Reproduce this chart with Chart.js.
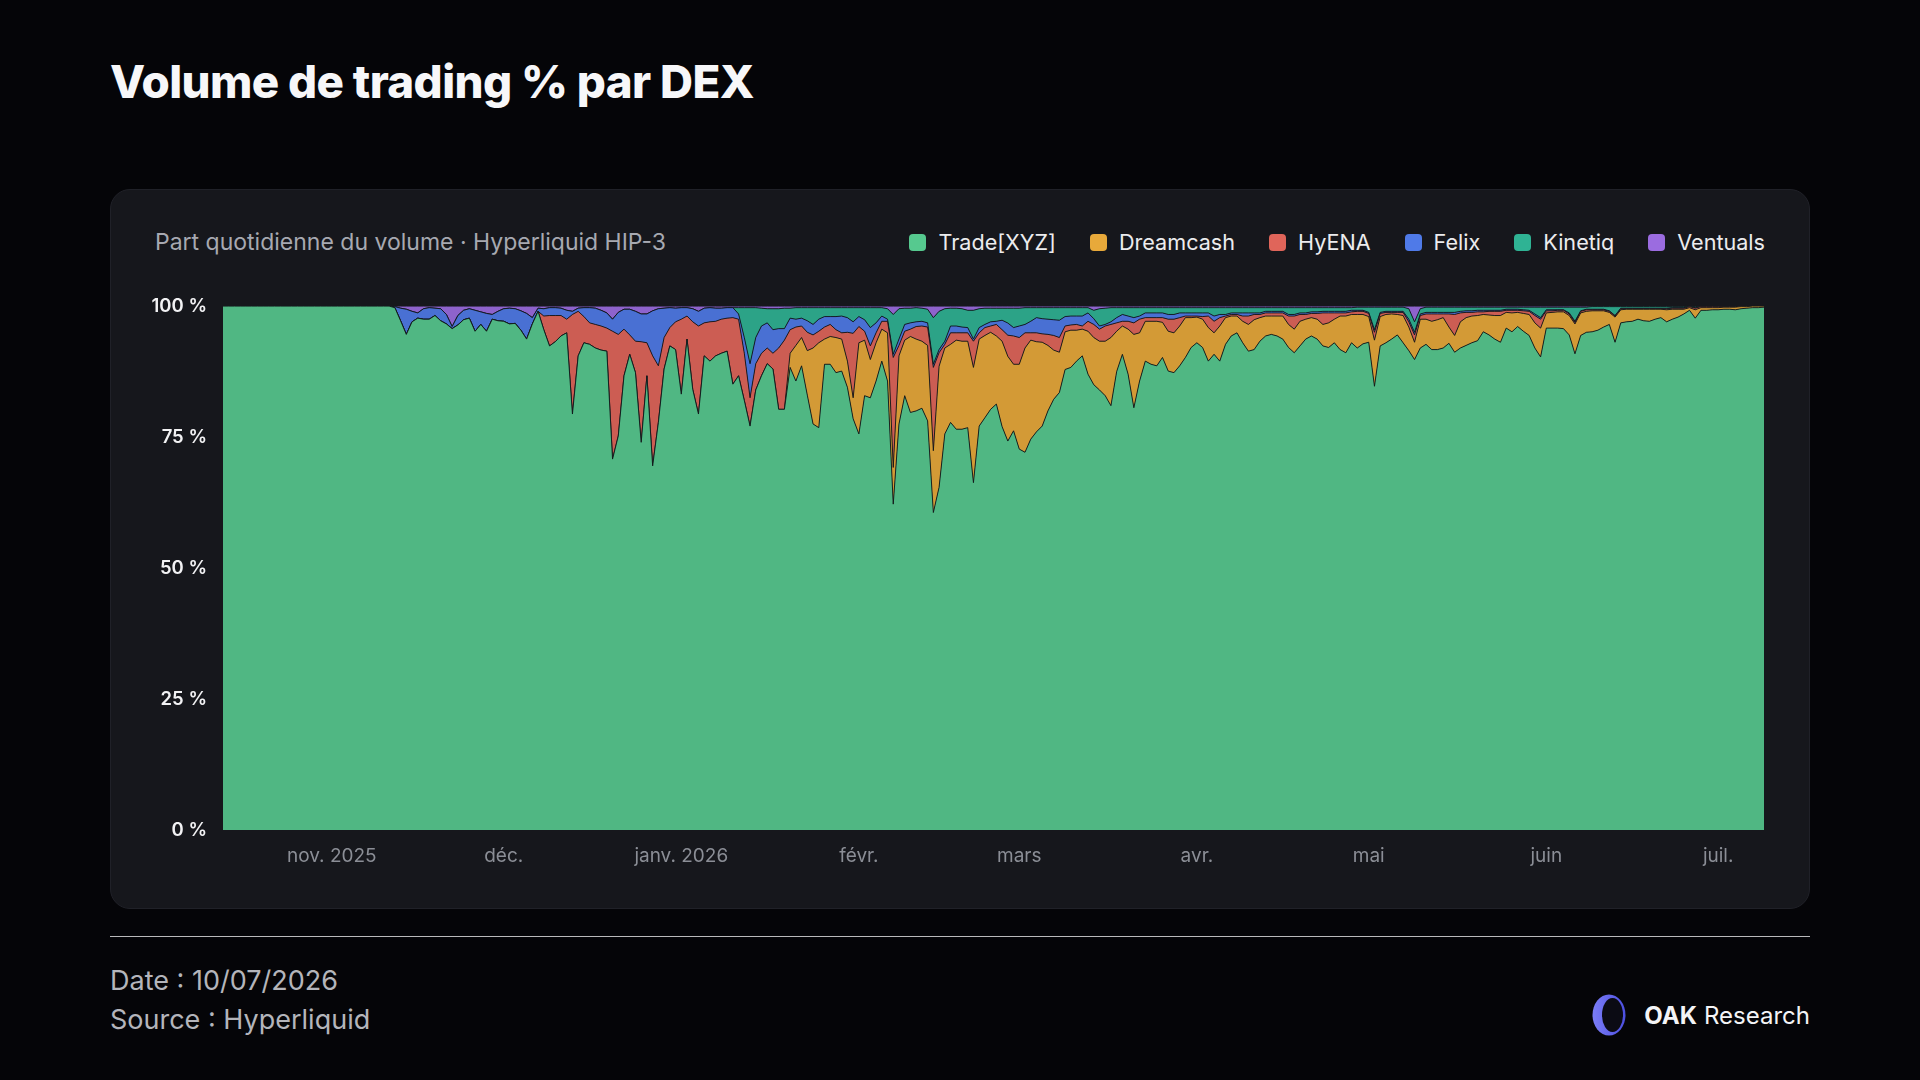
<!DOCTYPE html>
<html lang="fr">
<head>
<meta charset="utf-8">
<title>Volume de trading % par DEX</title>
<script src="https://cdn.jsdelivr.net/npm/chart.js@4.4.1/dist/chart.umd.min.js"></script>
<style>
  html, body { margin: 0; padding: 0; }
  body {
    width: 1920px; height: 1080px; position: relative; overflow: hidden;
    background: #050508; font-family: Inter, "Noto Sans", sans-serif; color: #fff;
  }
  h1 {
    position: absolute; left: 110px; top: 54px; margin: 0;
    font-size: 45.7px; font-weight: 800; letter-spacing: -0.6px; color: #f7f7f9;
  }
  .card {
    position: absolute; left: 110px; top: 189px; width: 1700px; height: 720px;
    background: #16171c; border: 1px solid #202128; border-radius: 20px; box-sizing: border-box;
  }
  .subtitle {
    position: absolute; left: 44px; top: 38px; font-size: 23px; color: #a7a9b1;
  }
  .legend {
    position: absolute; right: 44px; top: 39px; display: flex; gap: 34px;
    font-size: 21.6px; color: #ececee;
  }
  .legend span { display: flex; align-items: center; }
  .legend i { display: inline-block; width: 17px; height: 17px; border-radius: 4px; margin-right: 12px; }
  .chart-box { position: absolute; left: 130px; top: 287px; width: 1660px; height: 603px; }
  .rule { position: absolute; left: 110px; top: 936px; width: 1700px; height: 1px; background: rgba(255,255,255,0.72); }
  .meta { position: absolute; left: 110px; top: 961px; font-size: 27px; line-height: 39px; color: #b4b5bb; }
  .brand { position: absolute; right: 110px; top: 993px; display: flex; align-items: center; font-size: 24px; color: #f4f4f6; }
  .brand svg { margin-right: 14px; }
  .brand b { font-weight: 700; margin-right: 7px; }
</style>
</head>
<body>
<h1>Volume de trading % par DEX</h1>
<div class="card">
  <div class="subtitle">Part quotidienne du volume · Hyperliquid HIP-3</div>
  <div class="legend" id="legend"></div>
</div>
<div class="chart-box"><canvas id="shareChart"></canvas></div>
<div class="rule"></div>
<div class="meta">Date : 10/07/2026<br>Source : Hyperliquid</div>
<div class="brand">
  <svg width="42" height="44" viewBox="0 0 42 44">
    <defs>
      <linearGradient id="ring" x1="0" y1="0" x2="1" y2="0">
        <stop offset="0" stop-color="#7b7df7"/>
        <stop offset="1" stop-color="#4c4fe0"/>
      </linearGradient>
    </defs>
    <ellipse cx="21" cy="22" rx="16.5" ry="20.5" fill="url(#ring)"/>
    <ellipse cx="24.5" cy="22" rx="10.5" ry="17" fill="#0b0b14"/>
  </svg>
  <b>OAK</b>Research
</div>

<script>
// daily series, first day 2025-10-13, shares in % of HIP-3 volume
const startDate = '2025-10-13';
const seriesNames = ['Trade[XYZ]', 'Dreamcash', 'HyENA', 'Felix', 'Kinetiq', 'Ventuals'];
const seriesColors = ['#56c98f', '#e8a93a', '#e0655a', '#4f7ae8', '#2fb394', '#9b6ce0'];

const tickMonths = ['2025-11', '2025-12', '2026-01', '2026-02', '2026-03', '2026-04', '2026-05', '2026-06', '2026-07'];
const tickLabels = ['nov. 2025', 'déc.', 'janv. 2026', 'févr.', 'mars', 'avr.', 'mai', 'juin', 'juil.'];
const yTicks = [0, 25, 50, 75, 100];

const tradeXyz = [
  100,100,100,100,100,100,100,100,100,100,
  100,100,100,100,100,100,100,100,100,100,
  100,100,100,100,100,100,100,100,100,100,
  99.7,97.2,94.6,97.0,97.7,97.5,97.5,98.2,97.2,96.6,
  95.7,96.4,97.4,97.7,95.2,96.5,95.2,97.5,97.2,97.1,
  96.6,96.7,95.4,93.7,96.6,99.0,95.5,92.4,93.2,94.3,
  94.9,79.4,90.5,93.0,92.7,92.0,91.6,91.4,70.8,75.2,
  86.7,90.8,87.3,74.0,86.7,69.5,77.8,88.0,92.4,91.7,
  83.2,93.7,84.1,79.4,90.5,89.5,90.5,91.0,91.4,85.1,
  86.7,82.0,77.1,84.0,86.7,89.0,88.0,80.3,80.3,88.3,
  85.7,88.6,83.0,77.5,76.8,88.9,88.9,87.3,87.6,84.5,
  78.5,75.6,82.9,82.5,85.7,89.5,85.7,62.2,77.5,82.9,
  79.7,80.0,80.5,78.1,60.6,65.4,75.6,77.8,76.5,76.5,
  76.8,66.3,77.1,78.7,80.3,81.3,77.0,73.5,76.2,72.7,
  72.1,74.6,76.0,77.1,80.0,82.2,83.5,87.9,88.3,89.5,
  90.5,87.0,85.0,84.0,82.9,81.0,87.5,90.8,87.0,80.6,
  85.7,89.5,88.9,88.6,90.2,87.6,87.3,88.6,90.2,92.1,
  93.0,92.1,89.5,90.8,89.5,92.7,94.3,94.9,93.0,91.4,
  91.7,93.3,94.3,94.6,94.3,93.7,92.1,91.1,92.4,93.7,
  94.3,93.7,92.4,92.1,93.0,91.7,91.1,93.0,92.0,92.8,
  93.1,84.7,92.4,93.0,93.7,94.5,93.0,91.5,89.8,92.0,
  92.7,91.7,91.7,92.0,92.9,91.2,92.0,92.5,93.0,93.4,
  95.1,94.5,93.7,93.1,95.8,95.1,96.1,95.2,94.4,92.0,
  90.3,95.8,95.8,95.8,95.7,94.5,90.9,94.4,95.0,95.1,
  95.4,96.0,96.5,93.1,96.8,97.0,97.1,97.5,97.2,97.1,
  97.5,97.8,97.0,97.5,97.9,98.5,99.2,97.7,99.2,99.2,
  99.3,99.3,99.4,99.4,99.3,99.5,99.6,99.7,99.7,99.8
];

const dreamcash = [
  0,0,0,0,0,0,0,0,0,0,
  0,0,0,0,0,0,0,0,0,0,
  0,0,0,0,0,0,0,0,0,0,
  0,0,0,0,0,0,0,0,0,0,
  0,0,0,0,0,0,0,0,0,0,
  0,0,0,0,0,0,0,0,0,0,
  0,0,0,0,0,0,0,0,0,0,
  0,0,0,0,0,0,0,0,0,0,
  0,0,0,0,0,0,0,0,0,0,
  0,0,0,0,0,0,0,0,0,2.7,
  6.8,5.4,8.5,14.5,16.2,4.8,5.3,6.7,6.1,5.0,
  4.0,17.4,10.6,7.3,7.3,6.1,9.2,7.0,13.0,10.6,
  14.5,13.7,12.8,14.4,11.8,23.1,16.4,14.9,17.0,16.8,
  16.5,22.0,16.6,15.7,14.7,13.0,16.3,16.0,12.7,16.2,
  19.9,18.9,17.2,16.0,12.5,9.4,7.7,7.2,7.1,5.9,
  5.1,8.2,9.0,9.3,10.4,13.0,7.7,5.4,8.6,14.0,
  9.2,7.6,8.2,8.5,6.7,7.6,7.6,7.6,7.6,5.7,
  4.9,5.4,6.4,4.1,6.7,5.1,3.8,3.2,4.1,5.1,
  5.7,4.5,3.8,3.5,3.8,4.4,4.4,4.5,4.7,3.8,
  3.5,3.8,4.1,4.7,4.5,6.4,7.0,5.4,6.4,5.6,
  4.9,8.8,5.6,5.4,4.8,3.9,5.2,4.5,3.3,5.5,
  4.8,5.4,5.7,5.8,3.1,3.2,5.0,5.3,5.1,4.8,
  3.3,3.8,4.5,5.1,3.0,3.6,2.7,3.4,4.0,4.8,
  5.5,2.9,3.0,3.1,3.2,3.7,5.7,4.3,4.0,4.0,
  3.7,3.1,2.3,4.8,2.5,2.4,2.3,1.9,2.2,2.3,
  1.9,1.6,2.3,1.9,1.5,0.9,0.5,1.6,0.5,0.5,
  0.4,0.4,0.4,0.4,0.5,0.4,0.3,0.3,0.3,0.2
];

const hyena = [
  0,0,0,0,0,0,0,0,0,0,
  0,0,0,0,0,0,0,0,0,0,
  0,0,0,0,0,0,0,0,0,0,
  0,0,0,0,0,0,0,0,0,0,
  0,0,0,0,0,0,0,0,0,0,
  0,0,0,0,0,0,2.6,5.8,5.0,3.9,
  2.6,19.0,8.5,5.0,4.1,4.5,4.6,4.4,24.4,19.4,
  8.9,3.7,6.0,19.2,6.3,21.0,10.8,6.0,3.5,5.3,
  14.3,4.4,12.9,16.8,6.3,7.5,6.6,6.5,6.3,12.7,
  10.8,9.0,5.4,5.0,4.3,3.0,3.0,11.7,13.2,4.5,
  3.5,2.2,3.5,2.5,2.2,2.3,2.3,1.5,1.2,5.5,
  12.3,3.1,1.7,2.6,1.9,1.5,2.2,21.0,2.0,1.7,
  1.4,2.4,2.9,3.5,15.9,2.6,0.7,2.2,1.4,1.6,
  1.6,5.0,1.2,1.5,1.2,2.2,2.2,4.0,5.4,5.1,
  2.9,1.4,1.7,1.6,2.1,2.8,2.8,1.1,1.0,1.1,
  0.6,1.9,2.5,2.3,2.9,2.5,1.6,0.9,1.5,2.2,
  2.6,0.7,0.7,0.7,0.9,2.3,2.6,1.6,0.3,0.3,
  0.2,0.5,2.2,2.2,1.6,0.3,0.3,0.3,1.0,1.6,
  1.0,0.6,0.6,0.6,0.6,0.6,1.6,2.5,1.3,0.9,
  0.8,1.1,2.2,1.9,1.2,0.6,0.6,0.5,0.6,0.6,
  0.6,1.5,0.6,0.4,0.3,0.4,0.6,1.0,1.4,0.7,
  1.0,1.4,1.1,0.7,2.5,4.0,1.7,1.0,0.7,0.7,
  0.5,0.7,0.8,0.8,0.4,0.5,0.4,0.5,0.6,1.4,
  1.7,0.4,0.3,0.3,0.3,0.3,0.3,0.3,0.3,0.2,
  0.2,0.2,0.2,0.2,0.2,0.1,0.1,0.1,0.1,0.1,
  0.1,0.1,0.2,0.2,0.2,0.2,0.2,0.3,0.2,0.2,
  0.2,0.2,0.1,0.1,0.1,0.1,0.1,0,0,0
];

const felix = [
  0,0,0,0,0,0,0,0,0,0,
  0,0,0,0,0,0,0,0,0,0,
  0,0,0,0,0,0,0,0,0,0,
  0.2,2.4,4.8,2.0,1.0,2.0,2.2,1.4,2.3,1.8,
  0.4,1.8,1.8,1.8,4.0,2.4,3.4,0.9,1.8,2.4,
  3.0,2.8,3.7,4.9,1.2,0.6,1.4,1.5,1.5,1.4,
  1.7,0.6,0.6,1.7,2.9,3.1,3.0,2.9,2.3,4.2,
  3.8,4.9,5.7,5.3,5.5,8.6,10.9,5.6,3.8,2.6,
  2.2,1.6,2.5,2.8,2.8,2.7,2.5,2.1,2.0,1.9,
  1.0,3.0,6.5,5.0,5.2,4.8,4.5,3.7,2.2,2.2,
  1.5,1.5,2.2,2.0,2.3,2.0,1.5,2.5,3.2,2.8,
  2.2,1.9,2.2,3.5,1.9,1.0,0.4,0.6,1.2,1.3,
  1.2,0.9,0.9,0.8,0.6,0.6,0.6,1.3,1.3,1.1,
  1.0,0.4,1.0,0.6,0.8,0.6,1.8,2.3,1.6,2.2,
  1.6,2.2,2.9,2.9,2.9,3.0,3.3,1.8,1.7,1.6,
  1.9,1.6,1.1,0.6,0.3,0.5,1.0,1.3,1.0,1.0,
  0.6,0.9,0.9,0.9,0.9,0.9,0.9,0.9,0.6,0.6,
  0.6,0.7,0.6,1.0,0.6,0.3,0.3,0.3,0.6,0.6,
  0.3,0.3,0.3,0.3,0.3,0.3,0.3,0.3,0.3,0.3,
  0.3,0.3,0.3,0.3,0.3,0.3,0.3,0.3,0.2,0.2,
  0.2,0.5,0.2,0.2,0.2,0.2,0.2,0.5,0.5,0.3,
  0.3,0.3,0.3,0.3,0.3,0.4,0.3,0.3,0.3,0.3,
  0.3,0.2,0.2,0.2,0.2,0.2,0.2,0.2,0.2,0.3,
  0.3,0.2,0.2,0.1,0.1,0.2,0.2,0.1,0.1,0.1,
  0.1,0.1,0.1,0.1,0.1,0.1,0.1,0.1,0.1,0.1,
  0.1,0.1,0.1,0.1,0.1,0.1,0,0.1,0,0,
  0,0,0,0,0,0,0,0,0,0
];

const kinetiq = [
  0,0,0,0,0,0,0,0,0,0,
  0,0,0,0,0,0,0,0,0,0,
  0,0,0,0,0,0,0,0,0,0,
  0,0,0,0,0,0,0,0,0,0,
  0,0,0,0,0,0,0,0,0,0,
  0,0,0,0,0,0,0,0,0,0,
  0,0,0,0,0,0,0,0,0,0,
  0,0,0,0,0,0,0,0,0,0,
  0,0,0,0,0,0,0,0,0,0,
  1.2,5.7,10.7,5.7,3.4,2.7,4.0,3.8,3.9,1.9,
  2.2,2.0,2.5,3.2,2.2,1.7,1.7,1.7,1.6,1.9,
  2.7,1.7,2.3,3.8,2.9,1.6,2.0,7.6,5.8,3.1,
  2.8,2.7,2.5,2.6,8.9,7.3,6.2,3.4,3.4,3.5,
  3.3,5.5,3.6,3.1,2.6,2.5,2.3,2.8,3.7,3.4,
  3.2,2.6,1.9,2.1,2.2,2.3,2.4,1.7,1.6,1.6,
  1.6,1.0,1.6,3.3,3.1,2.7,1.9,1.3,1.6,1.9,
  1.6,1.0,1.0,1.0,1.0,1.3,1.3,1.0,1.0,1.0,
  1.0,1.0,1.0,1.6,1.3,1.3,1.0,1.0,1.0,1.0,
  1.0,1.0,0.7,0.7,0.7,0.7,1.3,1.3,1.0,1.0,
  0.8,0.8,0.7,0.7,0.7,0.7,0.7,0.5,0.6,0.6,
  1.0,4.3,1.0,0.8,0.8,0.8,0.8,2.0,2.0,1.0,
  1.0,1.0,1.0,1.0,1.0,1.0,0.8,0.7,0.7,0.6,
  0.6,0.6,0.6,0.6,0.4,0.4,0.4,0.5,0.6,1.3,
  2.0,0.5,0.5,0.5,0.5,1.1,2.7,0.7,0.4,0.5,
  0.5,0.5,0.8,1.7,0.3,0.3,0.3,0.3,0.3,0.3,
  0.3,0.3,0.3,0.2,0.2,0.2,0.1,0.2,0.1,0.1,
  0.1,0.1,0.1,0.1,0.1,0,0,0,0,0
];

const ventuals = [
  0,0,0,0,0,0,0,0,0,0,
  0,0,0,0,0,0,0,0,0,0,
  0,0,0,0,0,0,0,0,0,0,
  0.1,0.4,0.6,1.0,1.3,0.5,0.3,0.4,0.5,1.6,
  3.9,1.8,0.8,0.5,0.8,1.1,1.4,1.6,1.0,0.5,
  0.4,0.5,0.9,1.4,2.2,0.4,0.5,0.3,0.3,0.4,
  0.8,1.0,0.4,0.3,0.3,0.4,0.8,1.3,2.5,1.2,
  0.6,0.6,1.0,1.5,1.5,0.9,0.5,0.4,0.3,0.4,
  0.3,0.3,0.5,1.0,0.4,0.3,0.4,0.4,0.3,0.3,
  0.3,0.3,0.3,0.3,0.4,0.5,0.5,0.5,0.4,0.4,
  0.3,0.3,0.3,0.3,0.3,0.3,0.3,0.3,0.3,0.3,
  0.3,0.3,0.3,0.3,0.3,0.3,0.5,1.6,0.5,0.4,
  0.4,0.3,0.4,0.6,2.2,1.0,0.5,0.4,0.4,0.5,
  0.8,0.8,0.5,0.4,0.4,0.4,0.4,0.4,0.4,0.4,
  0.3,0.3,0.3,0.3,0.3,0.3,0.3,0.3,0.3,0.3,
  0.3,0.3,0.8,0.5,0.4,0.3,0.3,0.3,0.3,0.3,
  0.3,0.3,0.3,0.3,0.3,0.3,0.3,0.3,0.3,0.3,
  0.3,0.3,0.3,0.3,0.3,0.3,0.3,0.3,0.3,0.3,
  0.3,0.3,0.3,0.3,0.3,0.3,0.3,0.3,0.3,0.3,
  0.3,0.3,0.3,0.3,0.3,0.3,0.3,0.3,0.2,0.2,
  0.2,0.2,0.2,0.2,0.2,0.2,0.2,0.5,3.0,0.5,
  0.2,0.2,0.2,0.2,0.2,0.2,0.2,0.2,0.2,0.2,
  0.2,0.2,0.2,0.2,0.2,0.2,0.2,0.2,0.2,0.2,
  0.2,0.2,0.2,0.2,0.2,0.2,0.2,0.2,0.2,0.1,
  0.1,0.1,0.1,0.1,0.1,0.1,0.1,0.1,0.1,0.1,
  0.1,0.1,0.1,0.1,0.1,0.1,0,0.1,0,0,
  0,0,0,0,0,0,0,0,0,0
];

const seriesValues = [tradeXyz, dreamcash, hyena, felix, kinetiq, ventuals];

// one label per day, as yyyy-mm-dd
const days = [];
const d0 = new Date(startDate + 'T00:00:00Z');
for (let i = 0; i < tradeXyz.length; i++) {
  const d = new Date(d0.getTime() + i * 86400000);
  days.push(d.toISOString().slice(0, 10));
}

// shares are re-normalised so each day stacks to exactly 100 %
const totals = days.map((_, i) => seriesValues.reduce((s, arr) => s + arr[i], 0));

function hexToRgba(hex, a) {
  const n = parseInt(hex.slice(1), 16);
  return `rgba(${n >> 16}, ${(n >> 8) & 255}, ${n & 255}, ${a})`;
}

const legendEl = document.getElementById('legend');
seriesNames.forEach((name, k) => {
  const item = document.createElement('span');
  item.innerHTML = `<i style="background:${seriesColors[k]}"></i>${name}`;
  legendEl.appendChild(item);
});

const ctx = document.getElementById('shareChart').getContext('2d');
new Chart(ctx, {
  type: 'line',
  data: {
    labels: days,
    datasets: seriesNames.map((name, k) => ({
      label: name,
      data: seriesValues[k].map((v, i) => v / totals[i] * 100),
      backgroundColor: hexToRgba(seriesColors[k], 0.9),
      borderColor: 'rgba(18, 22, 26, 0.9)',
      borderWidth: 1,
      pointRadius: 0,
      tension: 0,
      fill: k === 0 ? 'origin' : '-1'
    }))
  },
  options: {
    responsive: true,
    maintainAspectRatio: false,
    animation: false,
    layout: { padding: { top: 15, right: 26, bottom: 20, left: 0 } },
    plugins: {
      legend: { display: false },
      tooltip: { enabled: false }
    },
    scales: {
      x: {
        grid: { display: false },
        border: { display: false },
        afterFit(scale) { scale.height = 40; },
        ticks: {
          autoSkip: false,
          maxRotation: 0,
          padding: 7,
          color: '#8b8e96',
          font: { family: 'Inter', size: 19 },
          callback(value, index) {
            const day = days[index];
            if (!day.endsWith('-01')) return null;
            const m = tickMonths.indexOf(day.slice(0, 7));
            return m >= 0 ? tickLabels[m] : null;
          }
        }
      },
      y: {
        stacked: true,
        min: 0,
        max: 100,
        grid: { display: false },
        border: { display: false },
        afterFit(scale) { scale.width = 93; },
        afterBuildTicks(scale) { scale.ticks = yTicks.map(v => ({ value: v })); },
        ticks: {
          padding: 8,
          color: '#f2f2f4',
          font: { family: 'Inter', size: 18.5, weight: '600' },
          callback: v => v + ' %'
        }
      }
    }
  }
});
</script>
</body>
</html>
